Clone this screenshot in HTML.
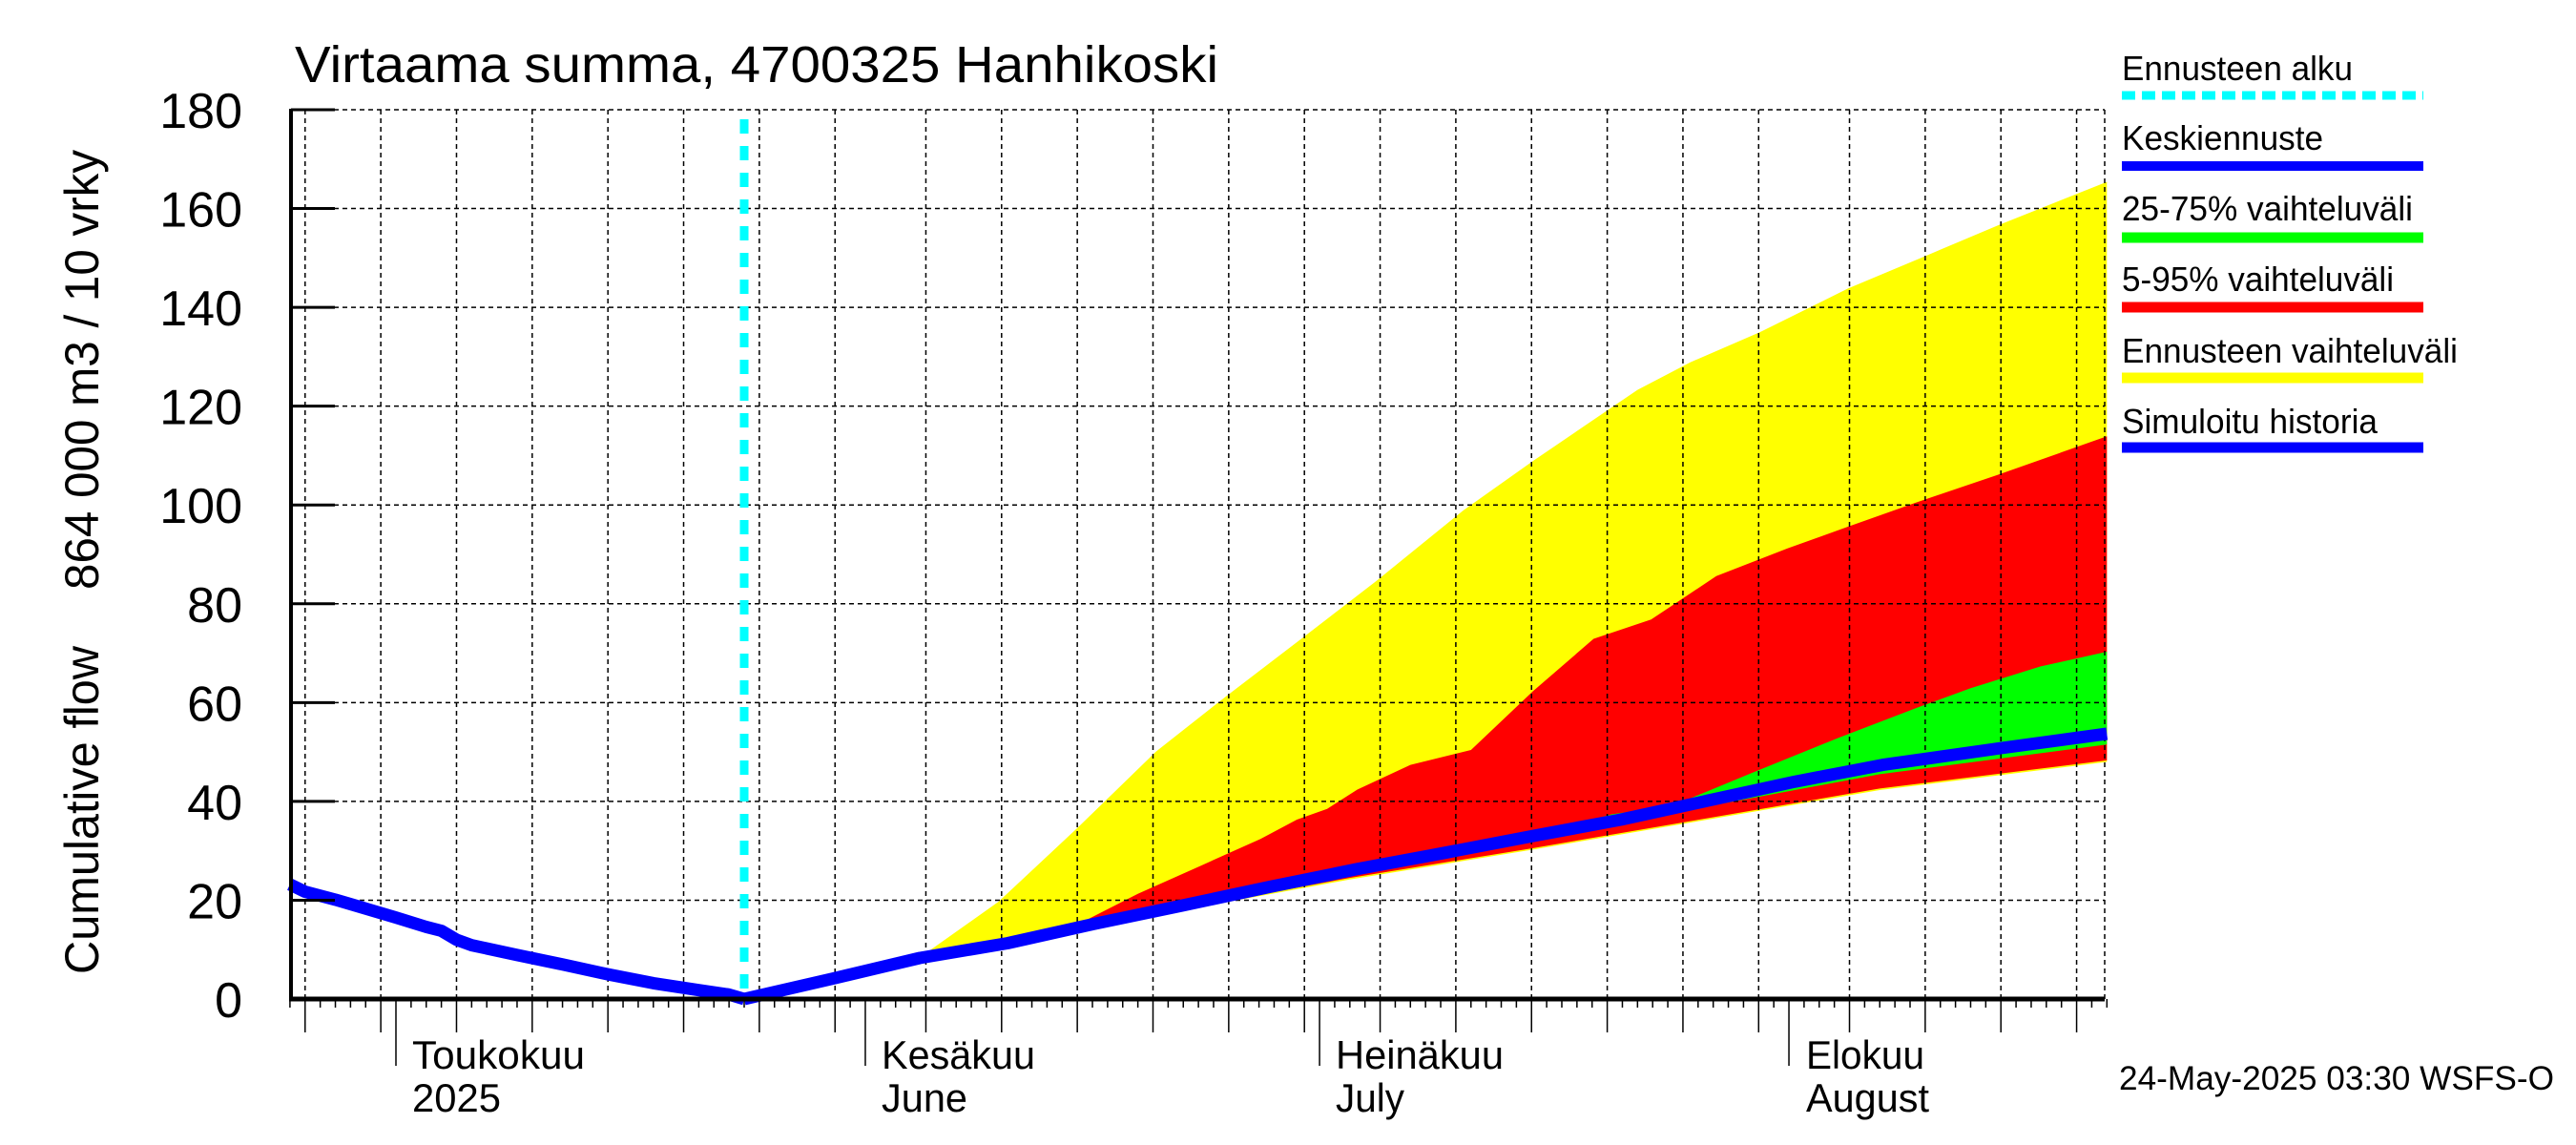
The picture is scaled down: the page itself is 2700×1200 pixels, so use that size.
<!DOCTYPE html>
<html><head><meta charset="utf-8"><style>
html,body{margin:0;padding:0;background:#fff;width:2700px;height:1200px;overflow:hidden}
svg{display:block}
text{font-family:"Liberation Sans",sans-serif;fill:#000}
</style></head><body>
<svg id="chart" xmlns="http://www.w3.org/2000/svg" width="2700" height="1200" viewBox="0 0 2700 1200">
<rect width="2700" height="1200" fill="#fff"/>
<g id="bands"></g>
<g id="grid"></g>
<g id="lines"></g>
<g id="axes"></g>
<text x="309" y="86" font-size="54" textLength="968" lengthAdjust="spacingAndGlyphs">Virtaama summa, 4700325 Hanhikoski</text>
<text transform="translate(103,1021) rotate(-90)" font-size="50" textLength="344" lengthAdjust="spacingAndGlyphs">Cumulative flow</text>
<text transform="translate(103,618) rotate(-90)" font-size="50" textLength="461" lengthAdjust="spacingAndGlyphs">864 000 m3 / 10 vrky</text>
<g>
<text x="2224" y="84" font-size="36" textLength="242" lengthAdjust="spacingAndGlyphs">Ennusteen alku</text>
<line x1="2224" y1="100" x2="2540" y2="100" stroke="#00ffff" stroke-width="9" stroke-dasharray="14 7"/>
<text x="2224" y="157" font-size="36" textLength="211" lengthAdjust="spacingAndGlyphs">Keskiennuste</text>
<line x1="2224" y1="174" x2="2540" y2="174" stroke="#0000ff" stroke-width="10"/>
<text x="2224" y="231" font-size="36" textLength="305" lengthAdjust="spacingAndGlyphs">25-75% vaihteluväli</text>
<line x1="2224" y1="249" x2="2540" y2="249" stroke="#00ff00" stroke-width="11"/>
<text x="2224" y="305" font-size="36" textLength="285" lengthAdjust="spacingAndGlyphs">5-95% vaihteluväli</text>
<line x1="2224" y1="322" x2="2540" y2="322" stroke="#ff0000" stroke-width="11"/>
<text x="2224" y="380" font-size="36" textLength="352" lengthAdjust="spacingAndGlyphs">Ennusteen vaihteluväli</text>
<line x1="2224" y1="396" x2="2540" y2="396" stroke="#ffff00" stroke-width="11"/>
<text x="2224" y="454" font-size="36" textLength="268" lengthAdjust="spacingAndGlyphs">Simuloitu historia</text>
<line x1="2224" y1="469" x2="2540" y2="469" stroke="#0000ff" stroke-width="11"/>
</g>
<text x="2221" y="1142" font-size="35" textLength="456" lengthAdjust="spacingAndGlyphs">24-May-2025 03:30 WSFS-O</text>
<g>
<text x="432" y="1120" font-size="42" textLength="181" lengthAdjust="spacingAndGlyphs">Toukokuu</text>
<text x="432" y="1165" font-size="42" textLength="93" lengthAdjust="spacingAndGlyphs">2025</text>
<text x="924" y="1120" font-size="42" textLength="161" lengthAdjust="spacingAndGlyphs">Kesäkuu</text>
<text x="924" y="1165" font-size="42" textLength="90" lengthAdjust="spacingAndGlyphs">June</text>
<text x="1400" y="1120" font-size="42" textLength="176" lengthAdjust="spacingAndGlyphs">Heinäkuu</text>
<text x="1400" y="1165" font-size="42" textLength="72" lengthAdjust="spacingAndGlyphs">July</text>
<text x="1893" y="1120" font-size="42" textLength="124" lengthAdjust="spacingAndGlyphs">Elokuu</text>
<text x="1893" y="1165" font-size="42" textLength="129" lengthAdjust="spacingAndGlyphs">August</text>
</g>
</svg>
<script>
// Days counted from 1 May 2025 (day 0); values in 864 000 m3 units
const yTicks = [0,20,40,60,80,100,120,140,160,180];
const forecastStartDay = 23;
const historyDays = [-7,-6,-4,-2,0,2,3,4,5,8,11,14,17,20,22,23];
const historyVals = [23.2,21.7,20.1,18.3,16.5,14.6,13.8,12.0,10.9,8.9,7.0,5.0,3.2,1.8,0.9,0];
const medianDays = [23,28.8,34.6,40.4,46.1,51.9,57.7,63.5,69.3,75.1,80.9,86.7,92.4,98.2,105.8,113];
const medianVals = [0,4.1,8.3,11.3,15.2,18.9,22.7,26.3,29.6,33.0,36.3,40.2,44.0,47.4,50.7,53.7];
const yellowUpperDays = [23,30,35.2,39.8,45,50.2,54.8,60,64.7,70.5,75.1,82,85.5,90.1,95.9,101.1,105.8,113];
const yellowUpperVals = [0,5,9.7,19.7,34.6,50.1,61.2,73.4,84.5,98.9,108.9,123.3,128.9,135,143.8,150.5,156.6,165.4];
const yellowLowerDays = [23,40,52,63,75,87,98,113];
const yellowLowerVals = [0,10.7,18.0,24.2,30.2,36.5,42.3,48.0];
const redUpperDays = [23,35,40,44.4,49,53.1,57.1,59.5,61.5,63.5,67,71,75.1,79.1,82.9,87.2,91.9,95.9,100.5,105.8,113];
const redUpperVals = [0,8.4,11.5,14.1,21.3,26.9,32.4,36.3,38.5,42.4,47.4,50.4,62.3,72.9,76.8,85.6,91.2,95.6,100.6,106.1,113.9];
const redLowerDays = [23,40,52,63,75,87,98,113];
const redLowerVals = [0,11.0,18.3,24.5,30.5,36.8,42.6,48.3];
const greenUpperDays = [23,40,52,63,68.1,75.1,80.3,84.3,89.5,95.3,100.5,104,108.6,113];
const greenUpperVals = [0,11.4,19.1,26.5,28.5,33.0,37.4,39.1,45.7,52.9,59.0,62.9,67.3,70.3];
const greenLowerDays = [23,40,52,63,75,87,98,113];
const greenLowerVals = [0,11.2,18.7,25.5,32.3,39.2,45.5,51.5];

const NS = "http://www.w3.org/2000/svg";
const X0 = 305, X1 = 2206, Y0 = 1047, Y1 = 115;
const DAY0X = 415, PXDAY = 15.87;
const dayMin = -7, dayMax = 113;
function xS(d){ return DAY0X + d*PXDAY; }
function yS(v){ return Y0 - (v/180)*(Y0-Y1); }
function mk(tag, attrs, parent){
  const e = document.createElementNS(NS, tag);
  for (const k in attrs) e.setAttribute(k, attrs[k]);
  parent.appendChild(e); return e;
}
const bands = document.getElementById('bands');
const grid = document.getElementById('grid');
const lines = document.getElementById('lines');
const axes = document.getElementById('axes');

function bandPts(ud, uv, ld, lv){
  const p = [];
  for (let i=0;i<ud.length;i++) p.push(xS(ud[i]).toFixed(1)+','+yS(uv[i]).toFixed(1));
  for (let i=ld.length-1;i>=0;i--) p.push(xS(ld[i]).toFixed(1)+','+yS(lv[i]).toFixed(1));
  return p.join(' ');
}
let b = mk('polygon', {points: bandPts(yellowUpperDays,yellowUpperVals,yellowLowerDays,yellowLowerVals), fill:'#ffff00'}, bands);


b = mk('polygon', {points: bandPts(redUpperDays,redUpperVals,redLowerDays,redLowerVals), fill:'#ff0000'}, bands);


b = mk('polygon', {points: bandPts(greenUpperDays,greenUpperVals,greenLowerDays,greenLowerVals), fill:'#00ff00'}, bands);



// horizontal grid + y ticks/labels
yTicks.forEach(v => {
  const y = yS(v);
  if (v > 0) {
    const g = mk('line', {x1:X0, y1:y, x2:X1, y2:y, stroke:'#000', 'stroke-width':1.5, 'stroke-dasharray':'5 4'}, grid);
    
    
  }
  const t = mk('line', {x1:X0, y1:y, x2:X0+46, y2:y, stroke:'#000', 'stroke-width':3}, axes);
  
  
  const lab = mk('text', {x:254, y:y+19, 'font-size':52, 'text-anchor':'end'}, axes);
  lab.textContent = String(v);
  
  
});
// right edge dashed
let re = mk('line', {x1:X1, y1:Y1, x2:X1, y2:Y0, stroke:'#000', 'stroke-width':1.5, 'stroke-dasharray':'5 4'}, grid);



// x ticks
const monthLens = [30,31,30,31,31]; // Apr, May, Jun, Jul, Aug
const monthStart = [-30,0,31,61,92];
for (let d = dayMin; d <= dayMax; d++) {
  let mi = 0;
  for (let k=0;k<monthStart.length;k++) if (d >= monthStart[k]) mi = k;
  const dom = d - monthStart[mi] + 1;
  const x = xS(d);
  let len = 9;
  if (dom === 1) len = 70;
  else if (dom % 5 === 0) {
    len = 35;
    const g = mk('line', {x1:x, y1:Y1, x2:x, y2:Y0, stroke:'#000', 'stroke-width':1.5, 'stroke-dasharray':'5 4'}, grid);
    
    
  }
  const t = mk('line', {x1:x, y1:Y0, x2:x, y2:Y0+len, stroke:'#000', 'stroke-width':1.5}, axes);
  
  
}
let ax = mk('line', {x1:X0, y1:Y1-1, x2:X0, y2:Y0+2, stroke:'#000', 'stroke-width':4}, axes);


ax = mk('line', {x1:X0-2, y1:Y0, x2:X1, y2:Y0, stroke:'#000', 'stroke-width':5}, axes);



// forecast start
const fx = xS(forecastStartDay);
let fs = mk('line', {x1:fx, y1:125, x2:fx, y2:Y0, stroke:'#00ffff', 'stroke-width':9, 'stroke-dasharray':'15 13'}, lines);



function linePts(ds, vs){ return ds.map((d,i)=>xS(d).toFixed(1)+','+yS(vs[i]).toFixed(1)).join(' '); }
let hl = mk('polyline', {points: linePts(historyDays, historyVals), fill:'none', stroke:'#0000ff', 'stroke-width':13, 'stroke-linejoin':'round'}, lines);


let ml = mk('polyline', {points: linePts(medianDays, medianVals), fill:'none', stroke:'#0000ff', 'stroke-width':13, 'stroke-linejoin':'round'}, lines);


</script>
</body></html>
